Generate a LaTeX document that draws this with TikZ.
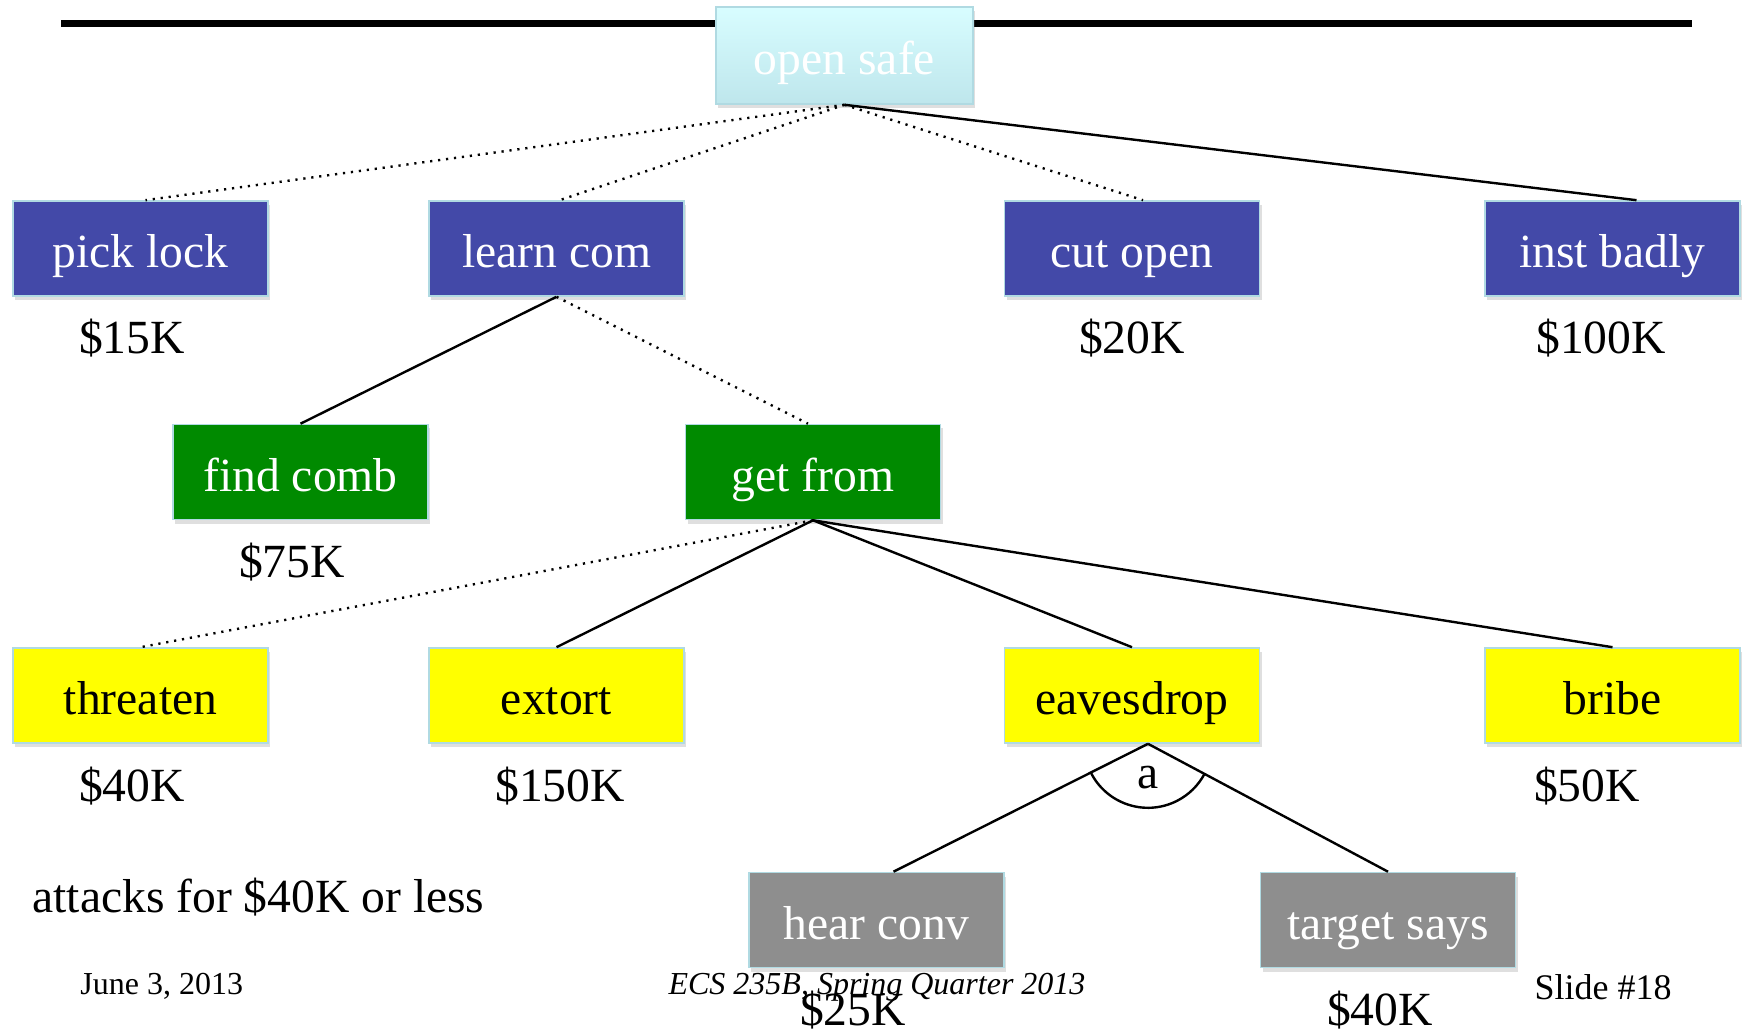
\documentclass[tikz,border=0pt]{standalone}
\usepackage{fontspec}
\setmainfont{Liberation Serif}
\usetikzlibrary{shadows}
\definecolor{boxblue}{RGB}{67,73,168}
\definecolor{boxgreen}{RGB}{0,138,0}
\definecolor{boxyellow}{RGB}{255,255,0}
\definecolor{boxgray}{RGB}{142,142,142}
\definecolor{boxedge}{RGB}{176,218,226}
\definecolor{safetop}{RGB}{216,253,255}
\definecolor{safebot}{RGB}{190,230,236}
\begin{document}
\begin{tikzpicture}[x=0.5pt,y=0.5pt,
  box/.style={draw=boxedge, line width=0.8pt, minimum width=127.5pt, minimum height=47.5pt,
    inner sep=0pt, font=\fontsize{23.8}{28}\selectfont, text height=21pt, text depth=2pt,
    drop shadow={opacity=0.25, shadow xshift=1pt, shadow yshift=-2pt}},
  bluebox/.style={box, fill=boxblue, text=white},
  greenbox/.style={box, fill=boxgreen, text=white},
  yellowbox/.style={box, fill=boxyellow, text=black},
  graybox/.style={box, fill=boxgray, text=white},
  cost/.style={anchor=base, inner sep=0pt, font=\fontsize{23.8}{28}\selectfont},
  foot/.style={anchor=base, inner sep=0pt, font=\fontsize{16}{19}\selectfont},
  solidline/.style={line width=1.2pt, black},
  dotline/.style={line width=1.2pt, black, dash pattern=on 1.1pt off 2.9pt}]
\useasboundingbox (0,0) rectangle (1743,-1031);
% top rule
\coordinate (ruleL) at (61,-23.5);
\coordinate (ruleR) at (1692,-23.5);
\draw[line width=3.5pt] (ruleL) -- (ruleR);
% nodes
\node[box, top color=safetop, bottom color=safebot, text=white, minimum width=128.5pt, minimum height=48.5pt] (opensafe) at (844.5,-55.5) {open safe};
\node[bluebox] (picklock) at (140.5,-248.5) {pick lock};
\node[bluebox] (learncom) at (556.5,-248.5) {learn com};
\node[bluebox] (cutopen) at (1132,-248.5) {cut open};
\node[bluebox] (instbadly) at (1612.5,-248.5) {inst badly};
\node[greenbox] (findcomb) at (300.5,-472) {find comb};
\node[greenbox] (getfrom) at (813,-472) {get from};
\node[yellowbox] (threaten) at (140.5,-695.5) {threaten};
\node[yellowbox] (extort) at (556.5,-695.5) {extort};
\node[yellowbox] (eavesdrop) at (1132,-695.5) {eavesdrop};
\node[yellowbox] (bribe) at (1612.5,-695.5) {bribe};
\node[graybox] (hearconv) at (876.5,-920) {hear conv};
\node[graybox] (targetsays) at (1388,-920) {target says};
% costs
\node[cost] (c1) at (132,-354) {\$15K};
\node[cost] (c2) at (1132,-354) {\$20K};
\node[cost] (c3) at (1601,-354) {\$100K};
\node[cost] (c4) at (292,-577) {\$75K};
\node[cost] (c5) at (132,-801) {\$40K};
\node[cost] (c6) at (560,-801) {\$150K};
\node[cost] (c7) at (1587,-801) {\$50K};
\node[cost] (c8) at (853,-1025) {\$25K};
\node[cost] (c9) at (1380,-1025) {\$40K};
\node[cost, anchor=base west] (attacks) at (32,-912) {attacks for \$40K or less};
% footer
\node[foot, anchor=base west] (date) at (80,-994) {June 3, 2013};
\node[foot] (course) at (877,-994) {\itshape ECS 235B, Spring Quarter 2013};
\node[foot, font=\fontsize{18}{21}\selectfont] (slide) at (1603,-999) {Slide \#18};
% connectors
\draw[dotline] (opensafe.south) -- ([xshift=2.5pt]picklock.north);
\draw[dotline] (opensafe.south) -- ([xshift=1.5pt]learncom.north);
\draw[dotline] (opensafe.south) -- ([xshift=5.5pt]cutopen.north);
\draw[solidline] (opensafe.south) -- ([xshift=12pt]instbadly.north);
\draw[solidline] (learncom.south) -- (findcomb.north);
\draw[dotline] (learncom.south) -- ([xshift=-2.5pt]getfrom.north);
\draw[dotline] (getfrom.south) -- (threaten.north);
\draw[solidline] (getfrom.south) -- (extort.north);
\draw[solidline] (getfrom.south) -- (eavesdrop.north);
\draw[solidline] (getfrom.south) -- (bribe.north);
\coordinate (eapex) at ([xshift=8pt]eavesdrop.south);
\draw[solidline] (eapex) -- ([xshift=8.5pt]hearconv.north);
\draw[solidline] (eapex) -- (targetsays.north);
% AND arc
\draw[line width=1.2pt] ([shift={(206.65:64)}]eapex) arc[start angle=206.65, end angle=331.93, radius=64];
\node[cost] (andlabel) at (1148,-788) {a};
\end{tikzpicture}
\end{document}
